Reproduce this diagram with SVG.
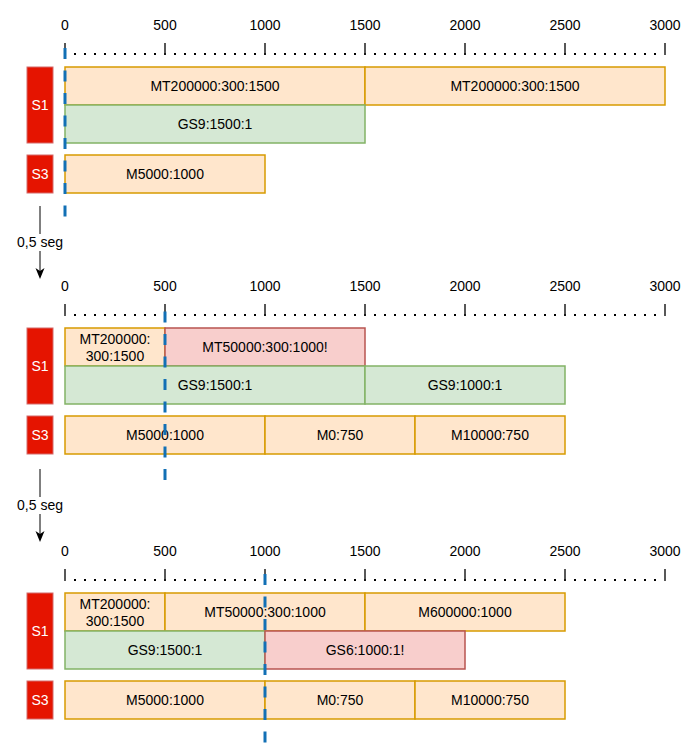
<svg xmlns="http://www.w3.org/2000/svg" width="699" height="756" viewBox="0 0 699 756">
<style>
text{font-family:"Liberation Sans",Arial,sans-serif;font-size:14px;fill:#000;text-anchor:middle}
.or{fill:#ffe6cc;stroke:#d79b00;stroke-width:1.5}
.gr{fill:#d5e8d4;stroke:#82b366;stroke-width:1.5}
.rd{fill:#f8cecc;stroke:#b85450;stroke-width:1.5}
.lbl{fill:#e51400;stroke:#d46a6a;stroke-width:1}
.wt{fill:#fff}
.tick{stroke:#222;stroke-width:1.5}
.dots{stroke:#000;stroke-width:2;stroke-dasharray:2 8}
.cur{stroke:#1270b5;stroke-width:3;stroke-dasharray:11 11.5;fill:none}
.arr{stroke:#000;stroke-width:1;fill:none}
</style>
<defs>
<g id="ruler">
<text x="65" y="30">0</text><text x="165" y="30">500</text><text x="265" y="30">1000</text><text x="365" y="30">1500</text><text x="465" y="30">2000</text><text x="565" y="30">2500</text><text x="665" y="30">3000</text>
<line class="dots" x1="74" y1="54" x2="657" y2="54"/>
<path class="tick" d="M65,43V55M165,43V55M265,43V55M365,43V55M465,43V55M565,43V55M665,43V55"/>
</g>
</defs>

<g id="panel1">
<use href="#ruler"/>
<g id="p1-S1"><rect class="lbl" x="27" y="67" width="26" height="76"/><text class="wt" x="40" y="110">S1</text></g>
<g id="p1-S3"><rect class="lbl" x="27" y="155" width="26" height="38"/><text class="wt" x="40" y="179">S3</text></g>
<g id="p1-mt1"><rect class="or" x="65" y="67" width="300" height="38"/><text x="215" y="91">MT200000:300:1500</text></g>
<g id="p1-mt2"><rect class="or" x="365" y="67" width="300" height="38"/><text x="515" y="91">MT200000:300:1500</text></g>
<g id="p1-gs"><rect class="gr" x="65" y="105" width="300" height="38"/><text x="215" y="129">GS9:1500:1</text></g>
<g id="p1-m"><rect class="or" x="65" y="155" width="200" height="38"/><text x="165" y="179">M5000:1000</text></g>
</g>

<g id="panel2" transform="translate(0,261)">
<use href="#ruler"/>
<g id="p2-S1"><rect class="lbl" x="27" y="67" width="26" height="76"/><text class="wt" x="40" y="110">S1</text></g>
<g id="p2-S3"><rect class="lbl" x="27" y="155" width="26" height="38"/><text class="wt" x="40" y="179">S3</text></g>
<g id="p2-mt1"><rect class="or" x="65" y="67" width="100" height="38"/><text x="115" y="83">MT200000:</text><text x="115" y="100">300:1500</text></g>
<g id="p2-mt2"><rect class="rd" x="165" y="67" width="200" height="38"/><text x="265" y="91">MT50000:300:1000!</text></g>
<g id="p2-gs1"><rect class="gr" x="65" y="105" width="300" height="38"/><text x="215" y="129">GS9:1500:1</text></g>
<g id="p2-gs2"><rect class="gr" x="365" y="105" width="200" height="38"/><text x="465" y="129">GS9:1000:1</text></g>
<g id="p2-m1"><rect class="or" x="65" y="155" width="200" height="38"/><text x="165" y="179">M5000:1000</text></g>
<g id="p2-m2"><rect class="or" x="265" y="155" width="150" height="38"/><text x="340" y="179">M0:750</text></g>
<g id="p2-m3"><rect class="or" x="415" y="155" width="150" height="38"/><text x="490" y="179">M10000:750</text></g>
</g>

<g id="panel3" transform="translate(0,526)">
<use href="#ruler"/>
<g id="p3-S1"><rect class="lbl" x="27" y="67" width="26" height="76"/><text class="wt" x="40" y="110">S1</text></g>
<g id="p3-S3"><rect class="lbl" x="27" y="155" width="26" height="38"/><text class="wt" x="40" y="179">S3</text></g>
<g id="p3-mt1"><rect class="or" x="65" y="67" width="100" height="38"/><text x="115" y="83">MT200000:</text><text x="115" y="100">300:1500</text></g>
<g id="p3-mt2"><rect class="or" x="165" y="67" width="200" height="38"/><text x="265" y="91">MT50000:300:1000</text></g>
<g id="p3-mt3"><rect class="or" x="365" y="67" width="200" height="38"/><text x="465" y="91">M600000:1000</text></g>
<g id="p3-gs1"><rect class="gr" x="65" y="105" width="200" height="38"/><text x="165" y="129">GS9:1500:1</text></g>
<g id="p3-gs2"><rect class="rd" x="265" y="105" width="200" height="38"/><text x="365" y="129">GS6:1000:1!</text></g>
<g id="p3-m1"><rect class="or" x="65" y="155" width="200" height="38"/><text x="165" y="179">M5000:1000</text></g>
<g id="p3-m2"><rect class="or" x="265" y="155" width="150" height="38"/><text x="340" y="179">M0:750</text></g>
<g id="p3-m3"><rect class="or" x="415" y="155" width="150" height="38"/><text x="490" y="179">M10000:750</text></g>
</g>

<g id="connectors">
<line class="cur" x1="65" y1="48" x2="65" y2="217"/>
<line class="cur" x1="165" y1="311.5" x2="165" y2="480"/>
<line class="cur" x1="265" y1="574" x2="265" y2="743"/>
<g id="step1">
<line class="arr" x1="40" y1="206" x2="40" y2="272"/>
<path d="M40,279L35.5,268L40,271L44.5,268Z" fill="#000"/>
<rect x="16" y="234" width="48" height="17" fill="#fff"/>
<text x="40" y="247">0,5 seg</text>
</g>
<g id="step2">
<line class="arr" x1="40" y1="469" x2="40" y2="535"/>
<path d="M40,542L35.5,531L40,534L44.5,531Z" fill="#000"/>
<rect x="16" y="497" width="48" height="17" fill="#fff"/>
<text x="40" y="510">0,5 seg</text>
</g>
</g>
</svg>
